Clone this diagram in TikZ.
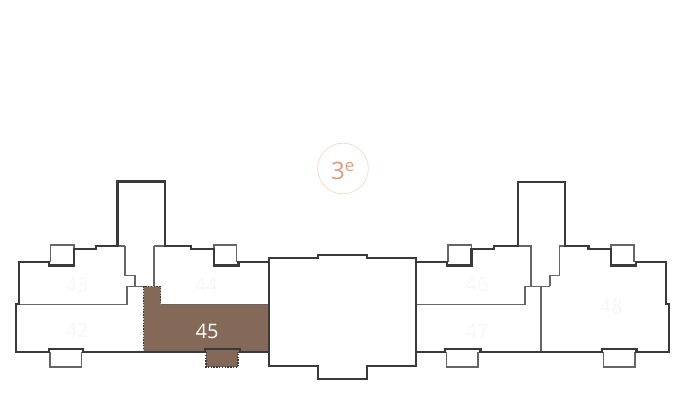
\documentclass[tikz,border=0pt]{standalone}
\usepackage{fontspec}
\setmainfont{Open Sans}
\definecolor{wallcol}{HTML}{3A3A3A}
\definecolor{thincol}{HTML}{666666}
\definecolor{lotcol}{HTML}{846858}
\definecolor{floorcol}{HTML}{DB9C7B}
\definecolor{ringcol}{HTML}{F0D8CA}
\definecolor{numcol}{HTML}{F7F7F7}
\tikzset{
  wall/.style={draw=wallcol,line width=2pt,line join=miter},
  partition/.style={draw=thincol,line width=1.1pt},
  lotnum/.style={text=numcol,inner sep=0pt,font=\fontsize{15}{15}\selectfont}
}
\begin{document}
\begin{tikzpicture}[x=0.75pt,y=-0.75pt]
\useasboundingbox (0,0) rectangle (683,417);
\fill [lotcol] (143.5,286.5) -- (160.5,286.5) -- (160.5,304.5) -- (269,304.5) -- (269,352) -- (143.5,352) -- cycle;
\fill [lotcol] (206,349) rectangle (238,367);
\draw [partition] (125,246) -- (125,275.5) -- (135,275.5) -- (135,286.5);
\draw [partition] (143.5,286.5) -- (127,286.5) -- (127,304.5) -- (19,304.5);
\draw [partition] (154,246) -- (154,286.5);
\draw [partition] (117,246) -- (125,246);
\draw [partition] (154,246) -- (165,246);
\draw [partition] (160.5,304.5) -- (269,304.5);
\draw [partition,densely dotted,draw=wallcol] (143.5,352) -- (143.5,286.5) -- (160.5,286.5) -- (160.5,304.5);
\draw [partition] (518,246) -- (531,246) -- (531,286.5);
\draw [partition] (550,286.5) -- (525,286.5) -- (525,304.5) -- (416,304.5);
\draw [partition] (550,286.5) -- (550,275.5) -- (559.7,275.5) -- (559.7,246) -- (565,246);
\draw [partition] (541,286.5) -- (541,352);
\draw [partition] (50.5,262) -- (50.5,245) -- (74,245) -- (74,249);
\draw [partition] (214,249) -- (214,245) -- (236.5,245) -- (236.5,262);
\draw [partition] (448,262) -- (448,245) -- (471.5,245) -- (471.5,249);
\draw [partition] (611,249) -- (611,245) -- (634,245) -- (634,262);
\draw [partition] (50,352) -- (50,367) -- (81.5,367) -- (81.5,352);
\draw [partition] (446.5,352) -- (446.5,367) -- (478,367) -- (478,352);
\draw [partition] (603.5,352) -- (603.5,367) -- (635,367) -- (635,352);
\draw [partition,densely dotted,draw=wallcol] (206,352) -- (206,367) -- (238,367) -- (238,352);
\draw [wall] (269,262) -- (238.5,262) -- (238.5,265.5) -- (214,265.5) -- (214,249) -- (191,249) -- (191,246) -- (165,246) -- (165,181.5) -- (117.5,181.5) -- (117.5,246) -- (96,246) -- (96,249) -- (74,249) -- (74,265.5) -- (49,265.5) -- (49,262) -- (19,262) -- (19,304) -- (16,304) -- (16,352) -- (49,352) -- (49,349) -- (83,349) -- (83,352) -- (205,352) -- (205,349) -- (240,349) -- (240,352) -- (269,352);
\draw [wall] (269,258) -- (318,258) -- (318,255) -- (367,255) -- (367,258) -- (416,258) -- (416,366) -- (367,366) -- (367,379) -- (318,379) -- (318,366) -- (269,366) -- cycle;
\draw [wall] (416,262) -- (447,262) -- (447,265.5) -- (471.5,265.5) -- (471.5,249) -- (494,249) -- (494,246) -- (518,246) -- (518,182) -- (565,182) -- (565,246) -- (588.5,246) -- (588.5,249) -- (611,249) -- (611,265.5) -- (636,265.5) -- (636,262) -- (666,262) -- (666,304) -- (669,304) -- (669,352) -- (636.5,352) -- (636.5,349) -- (602,349) -- (602,352) -- (480.5,352) -- (480.5,349) -- (445,349) -- (445,352) -- (416,352);
\node [lotnum] (lot42) at (77,330) {42};
\node [lotnum] (lot43) at (77,285) {43};
\node [lotnum] (lot44) at (206,285) {44};
\node [lotnum,text=white] (lot45) at (207,331) {45};
\node [lotnum] (lot46) at (477,284) {46};
\node [lotnum] (lot47) at (477,331) {47};
\node [lotnum] (lot48) at (611,306) {48};
\node [circle,draw=ringcol,line width=0.5pt,minimum size=38pt,inner sep=0pt] (floorring) at (343,168.5) {};
\node [anchor=base,inner sep=0pt,text=floorcol,font=\fontsize{18}{18}\selectfont] (floor) at (343,180) {3\textsuperscript{e}};
\end{tikzpicture}
\end{document}
